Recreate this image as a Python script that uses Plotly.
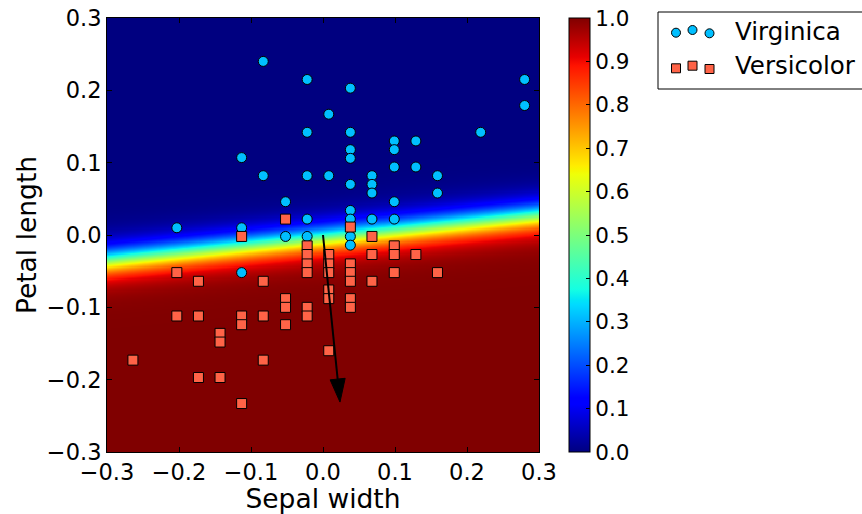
import numpy as np
import plotly.graph_objects as go

# Centered iris measurements: sepal width (x) and petal length (y)
virginica_sepal_width = [
    -0.083, -0.022, -0.022, -0.113, -0.083, -0.022, -0.052, -0.022, -0.203, -0.113,
    0.038, 0.008, 0.038, 0.099, 0.129, 0.038, 0.099, 0.038, 0.099, 0.129,
    0.008, 0.068, 0.159, 0.038, 0.068, 0.068, 0.159, 0.099, 0.038, 0.038,
    0.068, 0.099, 0.219, 0.280, 0.280, -0.052, -0.022, -0.113, 0.038, 0.038,
]
virginica_petal_length = [
    0.240, 0.215, 0.142, 0.107, 0.082, 0.082, 0.046, 0.022, 0.010, 0.010,
    0.203, 0.167, 0.142, 0.130, 0.130, 0.118, 0.118, 0.106, 0.094, 0.094,
    0.082, 0.082, 0.082, 0.070, 0.070, 0.058, 0.058, 0.046, 0.034, 0.022,
    0.022, 0.022, 0.142, 0.215, 0.179, -0.002, -0.002, -0.052, -0.002, -0.014,
]
versicolor_sepal_width = [
    -0.052, 0.038, -0.113, 0.068, -0.022, -0.022, -0.022, -0.022, -0.203, -0.173,
    -0.083, -0.052, -0.052, -0.022, -0.203, -0.173, -0.113, -0.083, -0.022, -0.113,
    -0.052, -0.143, -0.143, -0.264, -0.083, -0.173, -0.143, -0.113, 0.008, 0.008,
    0.008, 0.038, 0.038, 0.038, 0.068, 0.068, 0.099, 0.099, 0.099, 0.129,
    0.159, 0.008, 0.008, 0.038, 0.038, 0.008,
]
versicolor_petal_length = [
    0.022, 0.011, -0.002, -0.002, -0.015, -0.027, -0.040, -0.052, -0.052, -0.064,
    -0.064, -0.088, -0.100, -0.100, -0.112, -0.112, -0.112, -0.112, -0.112, -0.124,
    -0.124, -0.136, -0.148, -0.173, -0.173, -0.197, -0.197, -0.233, -0.027, -0.040,
    -0.052, -0.040, -0.052, -0.064, -0.027, -0.064, -0.015, -0.027, -0.052, -0.027,
    -0.052, -0.076, -0.088, -0.088, -0.100, -0.160,
]

# Logistic regression: P(Versicolor) = sigmoid(W_SW * x + W_PL * y + BIAS)
W_SW = 8.5
W_PL = -82.0
BIAS = -0.41

# Weight direction, drawn as an arrow from the origin
ARROW_SW = 0.0236
ARROW_PL = -0.231

AXIS_TICKS = [-0.3, -0.2, -0.1, 0.0, 0.1, 0.2, 0.3]
CBAR_TICKS = [0.0, 0.1, 0.2, 0.3, 0.4, 0.5, 0.6, 0.7, 0.8, 0.9, 1.0]

FONT = "DejaVu Sans"
W, H = 862, 514
L, R, T, B = 107, 539, 18, 452  # plot area in pixels


def jet_colorscale():
    """Matplotlib's 'jet' as a Plotly colorscale."""
    r = ([0, 0.35, 0.66, 0.89, 1], [0, 0, 1, 1, 0.5])
    g = ([0, 0.125, 0.375, 0.64, 0.91, 1], [0, 0, 1, 1, 0, 0])
    b = ([0, 0.11, 0.34, 0.65, 1], [0.5, 1, 1, 0, 0])
    stops = sorted(set(r[0]) | set(g[0]) | set(b[0]))
    scale = []
    for s in stops:
        rr = np.interp(s, *r) * 255
        gg = np.interp(s, *g) * 255
        bb = np.interp(s, *b) * 255
        scale.append([s, f"rgb({rr:.0f},{gg:.0f},{bb:.0f})"])
    return scale


# Probability surface over the plotting window
gx = np.linspace(-0.3, 0.3, 400)
gy = np.linspace(-0.3, 0.3, 400)
XX, YY = np.meshgrid(gx, gy)
prob = 1.0 / (1.0 + np.exp(-(W_SW * XX + W_PL * YY + BIAS)))

fig = go.Figure()

fig.add_trace(go.Heatmap(
    x=gx, y=gy, z=prob, zmin=0, zmax=1,
    colorscale=jet_colorscale(),
    hoverinfo="skip",
    colorbar=dict(
        x=(569 - L) / (R - L), xanchor="left", xpad=0,
        y=0.5, yanchor="middle", ypad=0, len=1, lenmode="fraction",
        thickness=21, outlinecolor="black", outlinewidth=1,
        tickvals=CBAR_TICKS, tickformat=".1f",
        ticks="inside", ticklen=4, tickcolor="black",
        tickfont=dict(family=FONT, size=21.5, color="black"),
    ),
))

fig.add_trace(go.Scatter(
    x=virginica_sepal_width, y=virginica_petal_length, mode="markers",
    name="Virginica", showlegend=False,
    marker=dict(symbol="circle", size=10, color="#00BFFF",
                line=dict(color="black", width=1)),
))
fig.add_trace(go.Scatter(
    x=versicolor_sepal_width, y=versicolor_petal_length, mode="markers",
    name="Versicolor", showlegend=False,
    marker=dict(symbol="square", size=10, color="#FF6347",
                line=dict(color="black", width=1)),
))

# Arrow: shaft plus a filled triangular head
tip = np.array([ARROW_SW, ARROW_PL])
d = tip / np.linalg.norm(tip)
n = np.array([-d[1], d[0]])
head_len, head_half = 0.032, 0.0105
base = tip - head_len * d
fig.add_trace(go.Scatter(
    x=[0, base[0]], y=[0, base[1]], mode="lines",
    line=dict(color="black", width=2), hoverinfo="skip", showlegend=False,
))
corners = [tip, base + head_half * n, base - head_half * n, tip]
fig.add_trace(go.Scatter(
    x=[c[0] for c in corners], y=[c[1] for c in corners],
    mode="lines", fill="toself", fillcolor="black",
    line=dict(color="black", width=1), hoverinfo="skip", showlegend=False,
))

axis_common = dict(
    range=[-0.3, 0.3], tickvals=AXIS_TICKS, tickformat=".1f",
    showgrid=False, zeroline=False,
    showline=True, linecolor="black", linewidth=1, mirror="ticks",
    ticks="inside", ticklen=5, tickcolor="black", tickwidth=1,
    tickfont=dict(family=FONT, size=22.5, color="black"),
    automargin=False,
)


def px_x(p):
    return (p - L) / (R - L)


def px_y(p):
    return (B - p) / (B - T)


# Legend drawn with paper-anchored shapes and text
shapes = [dict(type="rect", xref="paper", yref="paper",
               x0=px_x(658), x1=px_x(880), y0=px_y(89), y1=px_y(12),
               line=dict(color="black", width=1), fillcolor="white", layer="above")]
legend_rows = [
    ("Virginica", "circle", "#00BFFF", [32.7, 30.0, 33.3], 31),
    ("Versicolor", "rect", "#FF6347", [68.3, 65.7, 69.0], 66),
]
annotations = []
for label, kind, color, ys, ty in legend_rows:
    for cx, cy in zip([676, 692.5, 709.5], ys):
        shapes.append(dict(
            type=kind, xref="paper", yref="paper",
            xsizemode="pixel", ysizemode="pixel",
            xanchor=px_x(cx), yanchor=px_y(cy),
            x0=-4.5, x1=4.5, y0=-4.5, y1=4.5,
            fillcolor=color, line=dict(color="black", width=1), layer="above",
        ))
    annotations.append(dict(
        xref="paper", yref="paper", x=px_x(733), y=px_y(ty),
        text=label, showarrow=False, xanchor="left", yanchor="middle",
        font=dict(family=FONT, size=24.5, color="black"),
    ))

fig.update_layout(
    width=W, height=H,
    margin=dict(l=L, r=W - R, t=T, b=H - B, pad=0),
    paper_bgcolor="white", plot_bgcolor="white",
    font=dict(family=FONT, color="black"),
    xaxis=dict(axis_common, title=dict(text="Sepal width", standoff=4,
                                       font=dict(family=FONT, size=26.5))),
    yaxis=dict(axis_common, title=dict(text="Petal length", standoff=2,
                                       font=dict(family=FONT, size=26.5))),
    shapes=shapes,
    annotations=annotations,
    showlegend=False,
)

fig.write_html("out.html")
